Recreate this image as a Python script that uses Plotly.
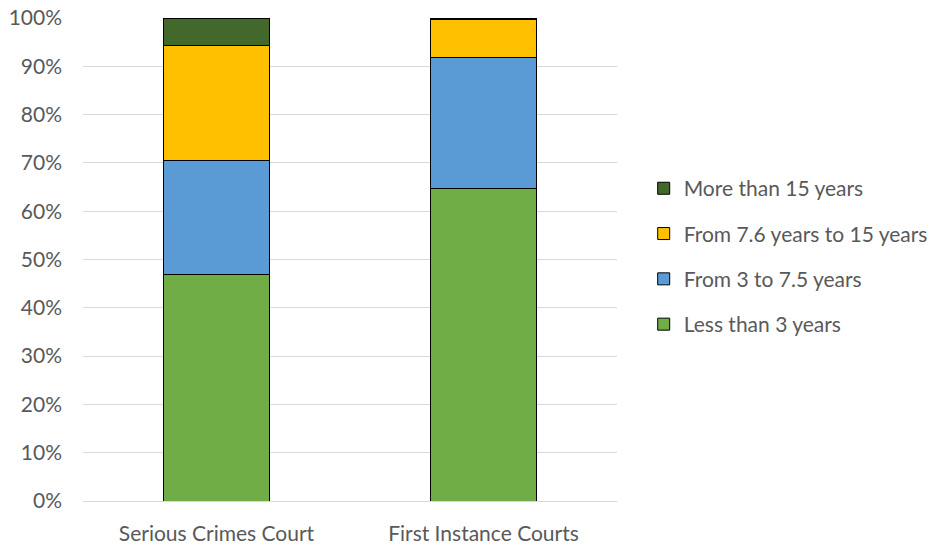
import plotly.graph_objects as go

categories = ["Serious Crimes Court", "First Instance Courts"]
series_names = ["Less than 3 years", "From 3 to 7.5 years", "From 7.6 years to 15 years", "More than 15 years"]
less_than_3 = [46.8, 64.8]
from_3_to_7_5 = [23.8, 27.1]
from_7_6_to_15 = [23.7, 7.7]
more_than_15 = [5.7, 0.4]
colors = ["#70ad47", "#5b9bd5", "#ffc000", "#43682b"]
tick_vals = [0, 10, 20, 30, 40, 50, 60, 70, 80, 90, 100]
tick_text = [f"{v}%" for v in tick_vals]

FONT = "Lato, Open Sans, sans-serif"
FS = 21

fig = go.Figure()
series = [less_than_3, from_3_to_7_5, from_7_6_to_15, more_than_15]
for i, (name, vals, col) in enumerate(zip(series_names, series, colors)):
    fig.add_trace(go.Bar(
        x=categories, y=vals, name=name, legendgroup=name,
        legendrank=100 - i,
        marker=dict(color=col, line=dict(color="#000000", width=1)),
        width=0.4,
    ))

fig.update_layout(
    barmode="stack",
    width=945, height=548,
    margin=dict(l=83, r=328, t=18, b=46.5),
    plot_bgcolor="white", paper_bgcolor="white",
    font=dict(family=FONT, size=FS, color="#595959"),
    xaxis=dict(showline=False, ticks="", automargin=False, ticklabelstandoff=18,
               tickfont=dict(size=FS, color="#595959")),
    yaxis=dict(range=[0, 100], tickvals=tick_vals, ticktext=tick_text,
               showgrid=True, gridcolor="#d9d9d9", gridwidth=1.3,
               zeroline=True, zerolinecolor="#d9d9d9", zerolinewidth=1.3,
               showline=False, ticks="", ticklabelstandoff=20, automargin=False,
               ticklabeloverflow="allow",
               tickfont=dict(size=FS, color="#595959")),
    legend=dict(x=1.05, y=0.506, xanchor="left", yanchor="middle",
                traceorder="grouped", tracegroupgap=15,
                font=dict(size=21, color="#595959"), itemwidth=30),
    showlegend=True,
)

fig.write_html("out.html", config={"displayModeBar": False},
               post_script="document.body.style.margin='0';")
